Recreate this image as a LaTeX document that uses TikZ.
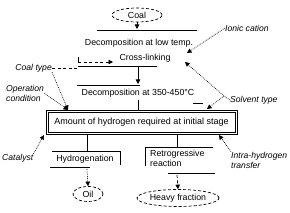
\documentclass[tikz,border=0pt]{standalone}
\usepackage{fontspec}
\setmainfont{Liberation Sans}
\usetikzlibrary{arrows.meta,shapes.geometric,calc}
\begin{document}
\begin{tikzpicture}[x=1pt,y=-1pt,
  txt/.style={font=\fontsize{8.8}{10}\selectfont, inner sep=0pt},
  side/.style={font=\fontsize{8.6}{10}\selectfont\itshape, inner sep=0pt, align=left},
  oval/.style={ellipse, draw, dash pattern=on 3pt off 2pt, line width=0.7pt, inner sep=0pt, font=\fontsize{8.8}{10}\selectfont},
  rule/.style={line width=0.75pt},
  tip/.style={-{Triangle[length=4.5pt,width=4.5pt]}},
  dotl/.style={dash pattern=on 0.8pt off 1pt, line width=0.6pt},
  dshl/.style={dash pattern=on 3pt off 2.5pt, line width=0.7pt}]
\useasboundingbox (0,0) rectangle (290,213);

% main column nodes
\node[oval, minimum width=50, minimum height=14] (coal) at (137,15) {Coal};
\node[txt] (lowtemp) at (139,43) {Decomposition at low temp.};
\node[txt] (cross) at (145,58) {Cross-linking};
\node[txt] (d350) at (138,93) {Decomposition at 350-450\textdegree C};
\node[draw, line width=0.8pt, minimum width=191, minimum height=24,
      font=\fontsize{9}{10}\selectfont, inner sep=0pt] (box) at (141.5,122) {Amount of hydrogen required at initial stage};
\draw[line width=0.6pt] ($(box.north west)+(2.5,2.5)$) rectangle ($(box.south east)+(-2.5,-2.5)$);
\node[txt] (hydro) at (85,159) {Hydrogenation};
\node[txt, align=left, anchor=west] (retro) at (150,158) {Retrogressive\\reaction};
\node[oval, minimum width=30, minimum height=15] (oil) at (88,194) {Oil};
\node[oval, minimum width=82, minimum height=17] (heavy) at (178,198) {Heavy fraction};

% side labels
\node[side, anchor=east] (coaltype) at (52,68) {Coal type};
\node[side, anchor=west] (oper) at (6,93) {Operation\\condition};
\node[side, anchor=west] (ionic) at (225,28) {Ionic cation};
\node[side, anchor=west] (solvent) at (230,100) {Solvent type};
\node[side, anchor=west] (catalyst) at (2,158) {Catalyst};
\node[side, anchor=west] (intra) at (231,160) {Intra-hydrogen\\transfer};

% coordinates
\coordinate (c1) at (137,29);
\coordinate (l1a) at (97,30);   \coordinate (l1b) at (197,30);
\coordinate (l2a) at (78,66);   \coordinate (l2b) at (157,66);
\coordinate (m1) at (138,66);   \coordinate (m2) at (138,84);
\coordinate (l3a) at (77,85);   \coordinate (l3b) at (140,85);
\coordinate (m3) at (138,100);
\coordinate (s1a) at (193,103); \coordinate (s1b) at (203,103);
\coordinate (ctb) at (78,68);   \coordinate (ctt) at (78,57);
\coordinate (ctd) at (78,62);   \coordinate (ctx) at (113,62);
\coordinate (tl) at (68,110);
\coordinate (ionict) at (187,53);
\coordinate (sv) at (224,96);
\coordinate (svu) at (185,62);  \coordinate (svd) at (207,109);
\coordinate (catt) at (44,135);
\coordinate (intrat) at (219,135);
% left branch
\coordinate (hb) at (87,151);
\coordinate (h1a) at (52,151);  \coordinate (h1b) at (120,151);
\coordinate (hv) at (120,165);
\coordinate (h2a) at (50,167);  \coordinate (h2b) at (90,167);
\coordinate (hd) at (87,169);
% right branch
\coordinate (rb) at (177,147);
\coordinate (r1a) at (145,147); \coordinate (r1b) at (213,147);
\coordinate (rv) at (145,166);
\coordinate (r2a) at (168,173); \coordinate (r2b) at (215,173);
\coordinate (rd) at (177,175);

% main flow
\draw[rule, tip] (coal) -- (c1);
\draw[rule] (l1a) -- (l1b);
\draw[rule] (l2a) -- (l2b);
\draw[rule, tip] (m1) -- (m2);
\draw[rule] (l3a) -- (l3b);
\draw[rule] (m3) -- (m3 |- box.north);
\draw[rule] (s1a) -- (s1b);

% left branch
\draw[rule] (box.south -| hb) -- (hb);
\draw[rule] (h1a) -- (h1b);
\draw[rule] (h1b) -- (hv);
\draw[rule] (h2a) -- (h2b);
\draw[dotl, tip] (hd) -- (oil.north);

% right branch
\draw[rule] (box.south -| rb) -- (rb);
\draw[rule] (r1a) -- (r1b);
\draw[rule] (r1a) -- (rv);
\draw[rule] (r2a) -- (r2b);
\draw[dshl, tip] (rd) -- (heavy.north);

% factors
\draw[dshl] (coaltype.east) -- (ctb);
\draw[rule] (ctt) -- (ctd);
\draw[dshl, tip] (ctd) -- (ctx);
\draw[dotl, tip] (coaltype.south east) -- (tl);
\draw[dotl, tip] (oper.east) -- (tl);
\draw[dotl, tip] (ionic.west) -- (ionict);
\draw[dotl, tip] (solvent.west) -- (sv) -- (svu);
\draw[dotl, tip] (sv) -- (svd);
\draw[dotl, tip] (catalyst.north east) -- (catt);
\draw[dotl, tip] (intra.north west) -- (intrat);
\end{tikzpicture}
\end{document}
